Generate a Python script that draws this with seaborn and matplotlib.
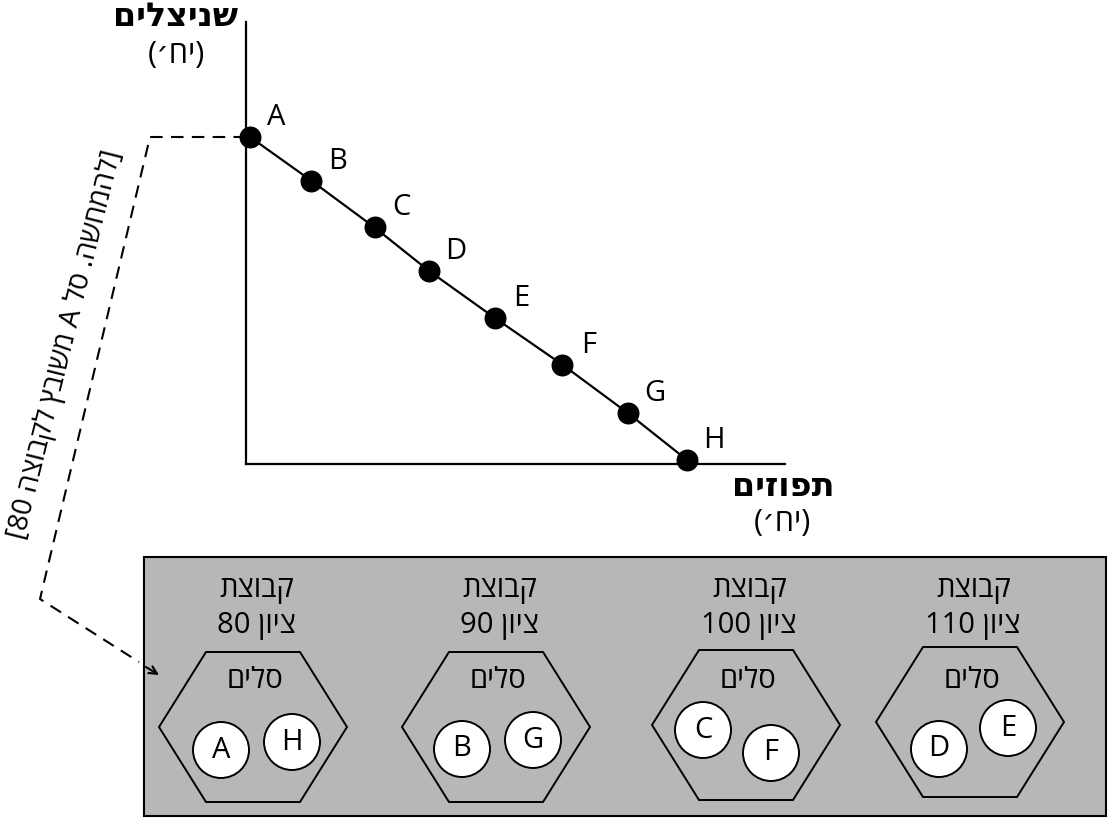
import re
import matplotlib
matplotlib.use('Agg')
import matplotlib.pyplot as plt
import seaborn as sns
from matplotlib.patches import Polygon, Circle, Rectangle

# data
points = ['A', 'B', 'C', 'D', 'E', 'F', 'G', 'H']
oranges = [0, 1.4, 2.85, 4.1, 5.6, 7.15, 8.65, 10]
schnitzels = [10, 8.65, 7.2, 5.85, 4.4, 2.95, 1.45, 0]

x_title = 'תפוזים'
y_title = 'שניצלים'
unit = '(יח׳)'
group_word = 'קבוצת'
score_word = 'ציון'
basket_word = 'סלים'
group_scores = [80, 90, 100, 110]
group_baskets = [['A', 'H'], ['B', 'G'], ['C', 'F'], ['D', 'E']]
note = '[להמחשה. סל A משובץ לקבוצה 80]'


def heb(s):
    # matplotlib has no bidi, so turn the logical string into visual order
    v = re.sub(r'[A-Za-z0-9]+', lambda m: m.group(0)[::-1], s[::-1])
    return v.translate(str.maketrans('()[]', ')(]['))


sns.set_theme(style='white')
plt.rcParams['font.family'] = ['Open Sans', 'DejaVu Sans']
plt.rcParams['text.color'] = 'black'

W, H = 1109, 818
fig = plt.figure(figsize=(W / 100, H / 100), dpi=100)

# overlay in pixel units for the diagram parts
ov = fig.add_axes([0, 0, 1, 1])
ov.set_xlim(0, W)
ov.set_ylim(H, 0)
ov.axis('off')

# main chart
ax = fig.add_axes([246 / W, 1 - 464 / H, 539 / W, 442 / H])
ax.set_facecolor('none')
sns.lineplot(x=oranges, y=schnitzels, color='black', lw=1.6, sort=False, ax=ax)
sns.scatterplot(x=oranges, y=schnitzels, s=250, color='black', linewidth=0,
                ax=ax, zorder=3, clip_on=False)
for lab, xv, yv in zip(points, oranges, schnitzels):
    ax.annotate(lab, (xv, yv), xytext=(19, 14), textcoords='offset points',
                ha='center', va='center', fontsize=21)
ax.set_xlim(-4 / 43.7, 535 / 43.7)
ax.set_ylim(-4 / 32.3, 438 / 32.3)
ax.set_xticks([])
ax.set_yticks([])
sns.despine(ax=ax)
for sp in ['left', 'bottom']:
    ax.spines[sp].set_color('black')
    ax.spines[sp].set_linewidth(1.6)

# axis titles
ov.text(176, 17, heb(y_title), fontsize=24, fontweight='bold', family=['DejaVu Sans'],
        ha='center', va='center')
ov.text(176, 55, heb(unit), fontsize=22, ha='center', va='center')
ov.text(783, 487, heb(x_title), fontsize=24, fontweight='bold', family=['DejaVu Sans'],
        ha='center', va='center')
ov.text(782, 523, heb(unit), fontsize=22, ha='center', va='center')

# grey box with the groups
ov.add_patch(Rectangle((144, 557), 962, 259, fc='#b7b7b7', ec='black', lw=1.5))
hex_cx = [253, 496, 746, 970]
hex_cy = [727, 727, 725, 722]
ball_off = [[(-32, 23), (39, 15)], [(-34, 22), (37, 13)],
            [(-43, 5), (25, 28)], [(-31, 27), (38, 6)]]
for i, (cx, cy) in enumerate(zip(hex_cx, hex_cy)):
    hexa = [(cx - 94, cy), (cx - 47, cy - 75), (cx + 47, cy - 75),
            (cx + 94, cy), (cx + 47, cy + 75), (cx - 47, cy + 75)]
    ov.add_patch(Polygon(hexa, closed=True, fc='none', ec='black', lw=1.4))
    ov.text(cx + 4, 589, heb(group_word), fontsize=21, ha='center', va='center')
    ov.text(cx + 3, 626, heb(f'{score_word} {group_scores[i]}'), fontsize=21,
            ha='center', va='center')
    ov.text(cx + 2, 680, heb(basket_word), fontsize=21, ha='center', va='center')
    for lab, (dx, dy) in zip(group_baskets[i], ball_off[i]):
        ov.add_patch(Circle((cx + dx, cy + dy), 28, fc='white', ec='black', lw=1.4))
        ov.text(cx + dx, cy + dy, lab, fontsize=21, ha='center', va='center')

# dashed pointer from A to the first group
ov.plot([246, 150, 40, 139], [137, 137, 599, 662], color='black', lw=1.5,
        ls=(0, (6, 4)))
ov.annotate('', xy=(159, 675), xytext=(146, 667),
            arrowprops=dict(arrowstyle='->', color='black', lw=1.5, mutation_scale=14,
                            shrinkA=0, shrinkB=0))
ov.text(66, 345, heb(note), fontsize=20, rotation=76, rotation_mode='anchor',
        ha='center', va='center')

fig.savefig('out.png', dpi=100)
